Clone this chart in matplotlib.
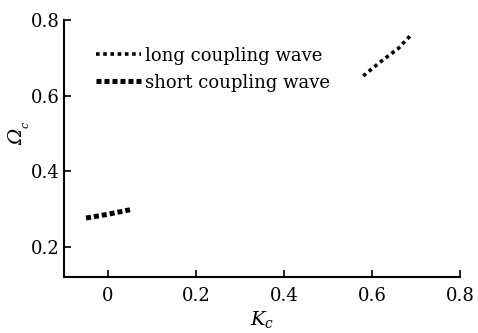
import numpy as np
import matplotlib
matplotlib.use("Agg")
import matplotlib.pyplot as plt

plt.rcParams['font.family'] = ['DejaVu Serif']
plt.rcParams['mathtext.fontset'] = 'dejavuserif'

# long coupling wave branch
long_k = [0.58, 0.62, 0.66, 0.69]
long_w = [0.652, 0.69, 0.725, 0.762]

# short coupling wave branch
short_k = [-0.05, 0.0, 0.05]
short_w = [0.276, 0.286, 0.298]

xticks = [0, 0.2, 0.4, 0.6, 0.8]
yticks = [0.2, 0.4, 0.6, 0.8]


def main():
    fig = plt.figure(figsize=(4.78, 3.33), dpi=100)
    ax = fig.add_axes([64 / 478, 1 - 277 / 333, (460 - 64) / 478, (277 - 20) / 333])

    ax.plot(long_k, long_w, color="black", lw=2.6, linestyle=(0, (1, 1)),
            label="long coupling wave")
    ax.plot(short_k, short_w, color="black", lw=3.6, linestyle=(0, (1, 0.6)),
            label="short coupling wave")

    ax.set_xlim(-0.1, 0.8)
    ax.set_ylim(0.12, 0.8)
    ax.set_xticks(xticks)
    ax.set_xticklabels(["0", "0.2", "0.4", "0.6", "0.8"])
    ax.set_yticks(yticks)
    ax.tick_params(direction="in", length=5, width=1.2, labelsize=13)
    ax.tick_params(axis="y", pad=3)
    ax.tick_params(axis="x", pad=7)
    ax.spines["top"].set_visible(False)
    ax.spines["right"].set_visible(False)
    for s in ["left", "bottom"]:
        ax.spines[s].set_linewidth(1.5)

    ax.set_xlabel(r"$K_c$", fontsize=14)
    ax.xaxis.set_label_coords(0.5, -0.125)

    # italic Omega with subscript c (mathtext keeps capital Greek upright)
    fig.text(17 / 478, 1 - 137 / 333, "Ω", rotation=90, fontsize=14,
             fontstyle="italic", ha="center", va="center")
    fig.text(26 / 478, 1 - 125 / 333, "c", rotation=90, fontsize=8,
             fontstyle="italic", ha="center", va="center")

    ax.legend(loc="upper left", frameon=False, fontsize=13,
              handlelength=2.5, handletextpad=0.2, labelspacing=0.5,
              bbox_to_anchor=(0.04, 0.96))

    fig.savefig("out.png", dpi=100)


if __name__ == "__main__":
    main()
